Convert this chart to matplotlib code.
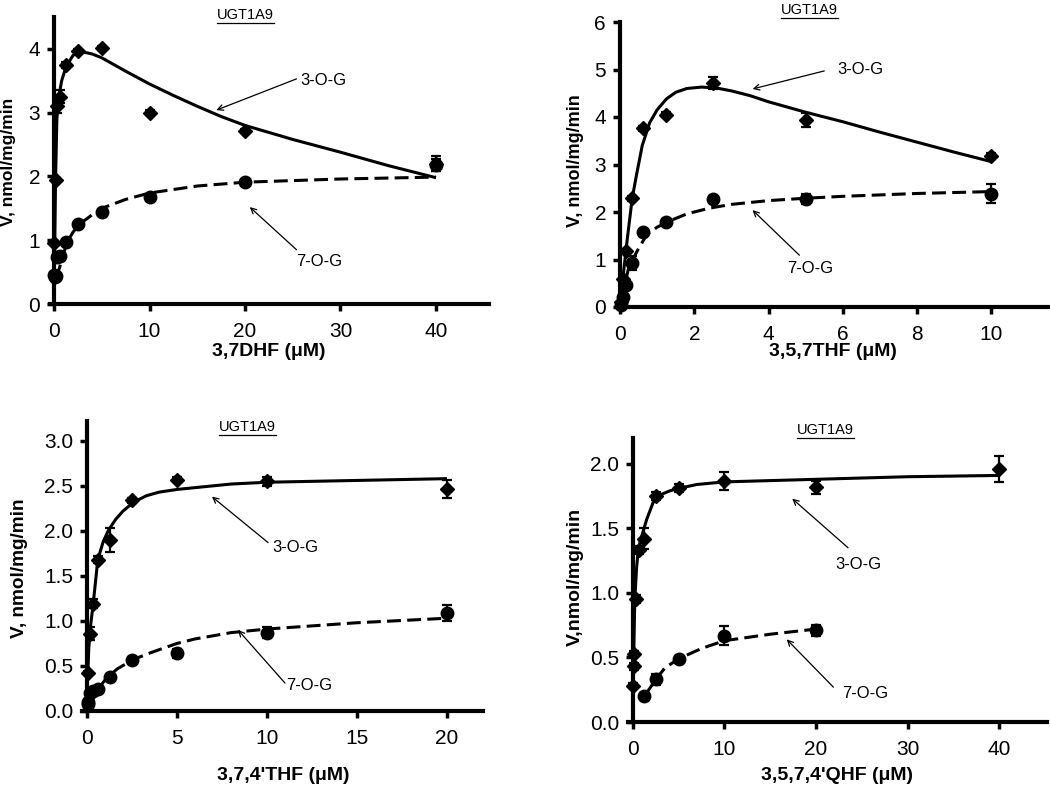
import matplotlib
matplotlib.use("Agg")
import matplotlib.pyplot as plt
from matplotlib.lines import Line2D

plt.rcParams['font.family'] = ['Liberation Sans', 'DejaVu Sans']
plt.rcParams['lines.scale_dashes'] = False

W, H = 1050, 796

# ---------------- data ----------------
# Panel A: 3,7DHF
a_x3 = [0.039, 0.156, 0.3125, 0.625, 1.25, 2.5, 5, 10, 20, 40]
a_y3 = [0.95, 1.95, 3.1, 3.25, 3.75, 3.97, 4.02, 3.0, 2.72, 2.2]
a_e3 = [0.03, 0.03, 0.1, 0.1, 0.05, 0.03, 0.03, 0.04, 0.03, 0.12]
a_x7 = [0.039, 0.078, 0.156, 0.3125, 0.625, 1.25, 2.5, 5, 10, 20, 40]
a_y7 = [0.45, 0.42, 0.44, 0.73, 0.75, 0.97, 1.25, 1.45, 1.67, 1.92, 2.18]
a_e7 = [0.05, 0.04, 0.03, 0.04, 0.04, 0.03, 0.03, 0.03, 0.03, 0.02, 0.1]
a_fx3 = [0.03, 0.08, 0.16, 0.3, 0.5, 0.8, 1.25, 2.0, 2.8, 4, 5, 7.5, 10, 12.5, 15, 17.5, 20, 25, 30, 35, 40]
a_fy3 = [0.7, 1.0, 1.95, 2.9, 3.25, 3.5, 3.72, 3.9, 3.96, 3.92, 3.86, 3.65, 3.45, 3.27, 3.1, 2.94, 2.8, 2.58, 2.38, 2.17, 1.98]
a_fx7 = [0.1, 0.3, 0.6, 1.0, 1.5, 2.0, 2.75, 4, 5, 7.5, 10, 15, 20, 30, 40]
a_fy7 = [0.42, 0.45, 0.58, 0.8, 1.0, 1.13, 1.26, 1.4, 1.5, 1.64, 1.74, 1.85, 1.91, 1.96, 1.99]

# Panel B: 3,5,7THF
b_x = [0.039, 0.078, 0.156, 0.3125, 0.625, 1.25, 2.5, 5, 10]
b_y3 = [0.1, 0.6, 1.18, 2.29, 3.76, 4.05, 4.72, 3.93, 3.18]
b_e3 = [0.03, 0.05, 0.05, 0.05, 0.05, 0.05, 0.12, 0.15, 0.07]
b_y7 = [0.05, 0.22, 0.47, 0.93, 1.58, 1.8, 2.28, 2.27, 2.38]
b_e7 = [0.02, 0.03, 0.04, 0.15, 0.05, 0.05, 0.05, 0.1, 0.2]
b_fx3 = [0.02, 0.1, 0.2, 0.33, 0.45, 0.6, 0.8, 1.0, 1.25, 1.5, 1.8, 2.2, 2.6, 3.0, 3.5, 4, 5, 6, 7, 8, 9, 10]
b_fy3 = [0.1, 0.75, 1.45, 2.29, 2.8, 3.4, 3.88, 4.15, 4.38, 4.52, 4.6, 4.63, 4.61, 4.55, 4.45, 4.32, 4.1, 3.9, 3.68, 3.47, 3.26, 3.06]
b_fx7 = [0.05, 0.1, 0.22, 0.45, 0.72, 1.0, 1.3, 1.8, 2.4, 3, 4, 5, 6, 8, 10]
b_fy7 = [0.15, 0.35, 0.78, 1.16, 1.52, 1.68, 1.8, 1.96, 2.08, 2.16, 2.24, 2.29, 2.33, 2.39, 2.43]

# Panel C: 3,7,4'THF
c_x3 = [0.039, 0.156, 0.3125, 0.625, 1.25, 2.5, 5, 10, 20]
c_y3 = [0.42, 0.86, 1.19, 1.68, 1.9, 2.34, 2.57, 2.55, 2.47]
c_e3 = [0.02, 0.07, 0.05, 0.04, 0.13, 0.03, 0.03, 0.05, 0.1]
c_x7 = [0.039, 0.078, 0.156, 0.3125, 0.625, 1.25, 2.5, 5, 10, 20]
c_y7 = [0.08, 0.1, 0.2, 0.22, 0.24, 0.38, 0.57, 0.64, 0.87, 1.09]
c_e7 = [0.02, 0.02, 0.03, 0.03, 0.04, 0.03, 0.03, 0.05, 0.06, 0.09]
c_fx3 = [0.02, 0.1, 0.2, 0.35, 0.6, 0.9, 1.2, 1.6, 2.0, 2.6, 3.3, 4, 5, 6, 8, 10, 15, 20]
c_fy3 = [0.3, 0.7, 0.95, 1.2, 1.68, 1.88, 2.01, 2.13, 2.22, 2.32, 2.39, 2.43, 2.46, 2.48, 2.52, 2.54, 2.56, 2.58]
c_fx7 = [0.1, 0.3, 0.6, 1.1, 1.7, 2.57, 3.3, 4, 5, 6, 8, 10, 15, 20]
c_fy7 = [0.08, 0.16, 0.24, 0.37, 0.47, 0.57, 0.63, 0.68, 0.75, 0.8, 0.87, 0.91, 0.98, 1.03]

# Panel D: 3,5,7,4'QHF
d_x3 = [0.039, 0.078, 0.156, 0.3125, 0.625, 1.25, 2.5, 5, 10, 20, 40]
d_y3 = [0.28, 0.43, 0.53, 0.95, 1.33, 1.42, 1.75, 1.81, 1.87, 1.82, 1.96]
d_e3 = [0.02, 0.03, 0.02, 0.03, 0.03, 0.08, 0.03, 0.03, 0.07, 0.05, 0.1]
d_x7 = [1.25, 2.5, 5, 10, 20]
d_y7 = [0.2, 0.33, 0.49, 0.67, 0.71]
d_e7 = [0.02, 0.04, 0.02, 0.07, 0.04]
d_fx3 = [0.02, 0.1, 0.2, 0.4, 0.6, 1.0, 1.5, 2.2, 3, 4, 5, 7, 10, 20, 30, 40]
d_fy3 = [0.25, 0.6, 0.95, 1.2, 1.35, 1.45, 1.57, 1.7, 1.76, 1.79, 1.81, 1.84, 1.86, 1.88, 1.9, 1.91]
d_fx7 = [1.25, 2.5, 3.5, 5, 7.5, 10, 15, 20]
d_fy7 = [0.2, 0.33, 0.42, 0.49, 0.57, 0.63, 0.68, 0.72]

fig = plt.figure(figsize=(W / 100, H / 100), dpi=100)


def make_axes(left_px, right_px, top_px, bottom_px):
    return fig.add_axes([left_px / W, 1 - bottom_px / H,
                         (right_px - left_px) / W, (bottom_px - top_px) / H])


def style(ax, xlim, ylim, xticks, yticks, yfmt=None):
    ax.set_xlim(*xlim)
    ax.set_ylim(*ylim)
    for s in ['top', 'right']:
        ax.spines[s].set_visible(False)
    ax.spines['left'].set_position(('data', 0))
    ax.spines['left'].set_linewidth(3)
    ax.spines['bottom'].set_linewidth(3)
    ax.set_xticks(xticks)
    ax.set_yticks(yticks)
    if yfmt:
        ax.set_yticklabels([yfmt % v for v in yticks])
    ax.tick_params(direction='out', length=5, width=2.5, labelsize=15)
    ax.tick_params(axis='x', pad=8)
    ax.tick_params(axis='y', pad=5)
    ax.patch.set_alpha(0)


def draw(ax, x3, y3, e3, x7, y7, e7, fx3, fy3, fx7, fy7):
    ax.plot(fx3, fy3, color='black', lw=2.2, solid_capstyle='butt', clip_on=False)
    ax.plot(fx7, fy7, color='black', lw=2.2, dashes=(10, 4.5), clip_on=False)
    ax.errorbar(x3, y3, yerr=e3, fmt='D', ms=7.5, color='black', ecolor='black',
                elinewidth=1.6, capsize=3.5, capthick=1.6, clip_on=False)
    ax.errorbar(x7, y7, yerr=e7, fmt='o', ms=9, color='black', ecolor='black',
                elinewidth=1.6, capsize=3.5, capthick=1.6, clip_on=False)


def label_arrow(ax, text, txy, tail, head):
    ax.annotate('', xy=head, xytext=tail,
                arrowprops=dict(arrowstyle='->', lw=0.9, color='black',
                                shrinkA=0, shrinkB=0, mutation_scale=10))
    ax.text(txy[0], txy[1], text, fontsize=12, ha='left', va='center')


def ftext(xp, yp, s, **kw):
    return fig.text(xp / W, 1 - yp / H, s, **kw)


titles = []


def utitle(xp, yp, s):
    titles.append(ftext(xp, yp, s, fontsize=10.5, ha='center', va='center'))


def ylab(xp, yp, s, size):
    ftext(xp, yp, s, fontsize=size, fontweight='bold', rotation=90, ha='center', va='center')


def xlab(xp, yp, s):
    ftext(xp, yp, s, fontsize=14, fontweight='bold', ha='center', va='center')


# Panel A
axA = make_axes(50.2, 488.5, 17, 304)
style(axA, (-0.4, 45.5), (0, 4.5), [0, 10, 20, 30, 40], [0, 1, 2, 3, 4])
draw(axA, a_x3, a_y3, a_e3, a_x7, a_y7, a_e7, a_fx3, a_fy3, a_fx7, a_fy7)
label_arrow(axA, '3-O-G', (25.8, 3.51), (25.4, 3.53), (17.0, 3.04))
label_arrow(axA, '7-O-G', (25.4, 0.66), (25.4, 0.85), (20.5, 1.52))
utitle(245, 15, 'UGT1A9')
ylab(9, 162, 'V, nmol/mg/min', 12.5)
xlab(269, 352, '3,7DHF (μM)')

# Panel B
axB = make_axes(618.1, 1049, 22, 307)
style(axB, (-0.05, 11.55), (0, 6), [0, 2, 4, 6, 8, 10], [0, 1, 2, 3, 4, 5, 6])
draw(axB, b_x, b_y3, b_e3, b_x, b_y7, b_e7, b_fx3, b_fy3, b_fx7, b_fy7)
label_arrow(axB, '3-O-G', (5.85, 4.99), (5.5, 4.97), (3.57, 4.59))
label_arrow(axB, '7-O-G', (4.5, 0.82), (4.83, 1.09), (3.57, 2.04))
utitle(809, 10, 'UGT1A9')
ylab(575, 161, 'V, nmol/mg/min', 13)
xlab(833, 352, '3,5,7THF (μM)')

# Panel C
axC = make_axes(81.6, 483, 421, 711)
style(axC, (-0.3, 22), (0, 3.22), [0, 5, 10, 15, 20],
      [0.0, 0.5, 1.0, 1.5, 2.0, 2.5, 3.0], yfmt='%.1f')
draw(axC, c_x3, c_y3, c_e3, c_x7, c_y7, c_e7, c_fx3, c_fy3, c_fx7, c_fy7)
label_arrow(axC, '3-O-G', (10.3, 1.82), (10.06, 1.87), (6.94, 2.38))
label_arrow(axC, '7-O-G', (11.05, 0.28), (11.0, 0.31), (8.39, 0.9))
utitle(247, 427, 'UGT1A9')
ylab(20, 568, 'V, nmol/mg/min', 13.7)
xlab(283, 776, "3,7,4'THF (μM)")

# Panel D
axD = make_axes(628.4, 1046.6, 438, 722)
style(axD, (-0.5, 45.2), (0, 2.2), [0, 10, 20, 30, 40],
      [0.0, 0.5, 1.0, 1.5, 2.0], yfmt='%.1f')
draw(axD, d_x3, d_y3, d_e3, d_x7, d_y7, d_e7, d_fx3, d_fy3, d_fx7, d_fy7)
label_arrow(axD, '3-O-G', (22.1, 1.22), (23.5, 1.35), (17.4, 1.73))
label_arrow(axD, '7-O-G', (22.9, 0.22), (21.9, 0.27), (16.8, 0.64))
utitle(825, 430, 'UGT1A9')
ylab(575, 577, 'V,nmol/mg/min', 14)
xlab(837, 776, "3,5,7,4'QHF (μM)")

# underline the UGT1A9 titles
fig.canvas.draw()
renderer = fig.canvas.get_renderer()
for t in titles:
    bb = t.get_window_extent(renderer)
    y = bb.y0 - 1
    fig.add_artist(Line2D([bb.x0 / W, bb.x1 / W], [y / H, y / H],
                          transform=fig.transFigure, color='black', lw=0.9))

fig.savefig('out.png', dpi=100)
